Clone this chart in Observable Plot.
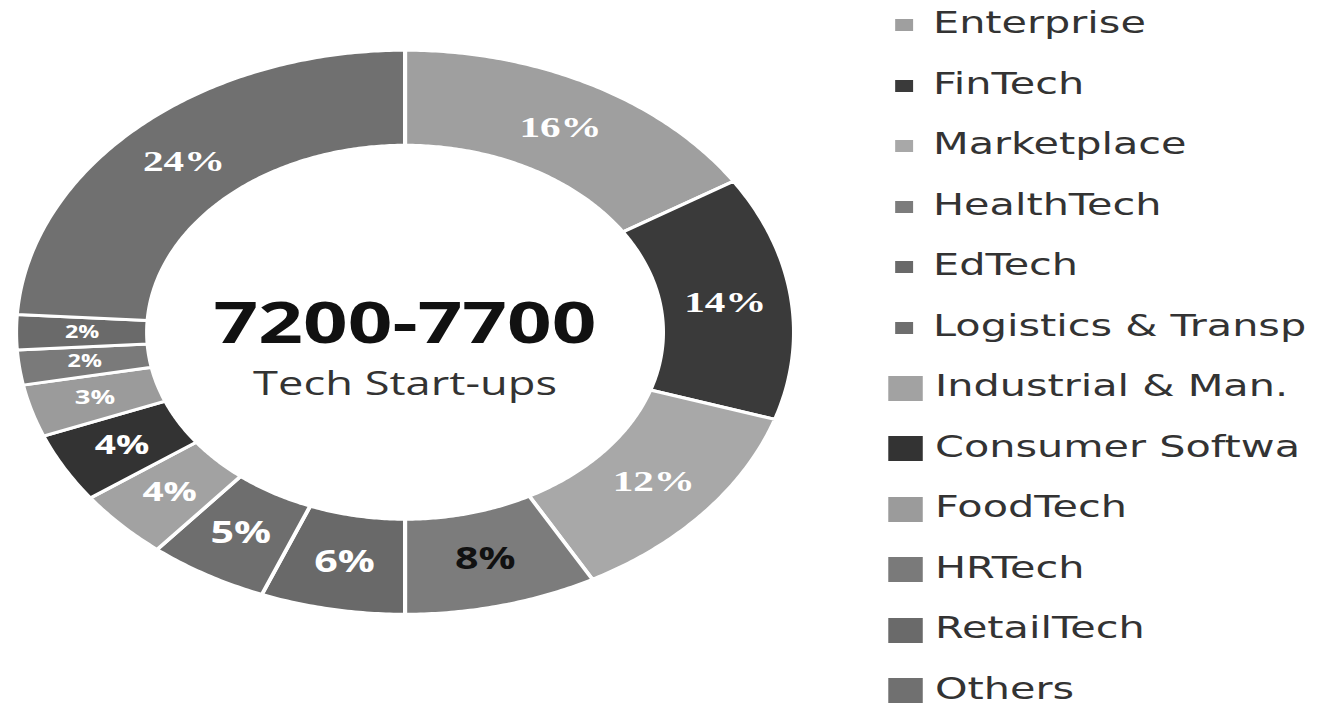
<!DOCTYPE html>
<html>
<head>
<meta charset="utf-8">
<script src="https://cdn.jsdelivr.net/npm/d3@7"></script>
<script src="https://cdn.jsdelivr.net/npm/@observablehq/plot@0.6"></script>
<style>
  html, body { margin: 0; padding: 0; background: #fff; overflow: hidden; width: 1320px; height: 705px; }
  #stage { position: absolute; left: 0; top: 0; width: 952px; height: 705px; overflow: hidden;
           transform: scaleX(1.37931); transform-origin: 0 0; }
  #chart { position: absolute; left: 0; top: 0; }
  .sw { position: absolute; }
  .lab { position: absolute; white-space: nowrap; font-family: "DejaVu Sans", sans-serif;
         font-size: 30px; line-height: 30px; color: #333; }
</style>
</head>
<body>
<div id="stage"><div id="chart"></div><div id="legend"></div></div>
<script>
// ---- data ----
const categories = ["Enterprise", "FinTech", "Marketplace", "HealthTech", "EdTech",
  "Logistics & Transp", "Industrial & Man.", "Consumer Softwa", "FoodTech",
  "HRTech", "RetailTech", "Others"];
const shares = [16, 14, 12, 8, 6, 5, 4, 4, 3, 2, 2, 24];
const colors = ["#9f9f9f", "#3a3a3a", "#a8a8a8", "#7c7c7c", "#696969", "#6e6e6e",
  "#a2a2a2", "#333333", "#9b9b9b", "#7a7a7a", "#6a6a6a", "#707070"];
const centerTitle = "7200-7700";
const centerSubtitle = "Tech Start-ups";

// ---- geometry derived from the data ----
const INNER = 0.663, LABEL_R = 0.83;
const total = d3.sum(shares);
let acc = 0;
const slices = categories.map((cat, i) => {
  const a0 = acc / total * 2 * Math.PI; acc += shares[i];
  const a1 = acc / total * 2 * Math.PI;
  return {cat, value: shares[i], a0, a1, mid: (a0 + a1) / 2};
});
const ringPts = slices.flatMap(s => {
  const n = Math.max(8, Math.ceil((s.a1 - s.a0) / 0.01));
  const angles = d3.range(n + 1).map(k => s.a0 + (s.a1 - s.a0) * k / n);
  const outer = angles.map(a => ({cat: s.cat, x: Math.sin(a), y: Math.cos(a)}));
  const inner = angles.slice().reverse().map(a => ({cat: s.cat, x: INNER * Math.sin(a), y: INNER * Math.cos(a)}));
  return outer.concat(inner);
});
const lx = d => LABEL_R * Math.sin(d.mid);
const ly = d => LABEL_R * Math.cos(d.mid);
const lsize = d => d.value <= 2 ? 17 : d.value <= 3 ? 20 : d.value <= 4 ? 27 : 30;

const chart = Plot.plot({
  width: 957, height: 705,
  marginLeft: 11.2, marginRight: 378.8, marginTop: 50, marginBottom: 88,
  x: {domain: [-1, 1], axis: null},
  y: {domain: [-1, 1], axis: null},
  color: {domain: categories, range: colors},
  style: {background: "transparent", overflow: "visible"},
  marks: [
    Plot.line(ringPts, {x: "x", y: "y", z: "cat", fill: "cat", stroke: "white",
      strokeWidth: 3, curve: "linear-closed"}),
    Plot.text(slices, {filter: d => d.value >= 12, x: lx, y: ly, text: d => d.value + "%",
      fill: "white", fontWeight: "bold", fontSize: lsize, fontFamily: "Liberation Serif"}),
    Plot.text(slices, {filter: d => d.value < 12 && d.cat !== "HealthTech", x: lx, y: ly,
      text: d => d.value + "%", fill: "white", fontWeight: "bold", fontSize: lsize, fontFamily: "Open Sans"}),
    Plot.text(slices, {filter: d => d.cat === "HealthTech", x: lx, y: ly,
      text: d => d.value + "%", fill: "#111", fontWeight: "bold", fontSize: lsize, fontFamily: "Open Sans"}),
    Plot.text([centerTitle], {frameAnchor: "middle", dy: -7, fontSize: 57, fontWeight: "bold",
      fontFamily: "Open Sans", fill: "#111"}),
    Plot.text([centerSubtitle], {frameAnchor: "middle", dy: 53, fontSize: 33,
      fontFamily: "Open Sans", fill: "#333"})
  ]
});
document.getElementById("chart").appendChild(chart);

// ---- legend (HTML) ----
const S = 1.37931;
const legend = document.getElementById("legend");
categories.forEach((cat, i) => {
  const cy = 25 + i * 60.5;
  const big = i >= 6;
  const sw = document.createElement("div");
  sw.className = "sw";
  const w = big ? 25 : 13, h = big ? 25 : 12;
  sw.style.left = ((big ? 888 : 895) / S) + "px";
  sw.style.top = (cy - h / 2) + "px";
  sw.style.width = w + "px";
  sw.style.height = h + "px";
  sw.style.background = colors[i];
  legend.appendChild(sw);
  const t = document.createElement("div");
  t.className = "lab";
  t.textContent = cat;
  t.style.left = ((big ? 935 : 933) / S) + "px";
  t.style.top = (cy - 17) + "px";
  legend.appendChild(t);
});
</script>
</body>
</html>
